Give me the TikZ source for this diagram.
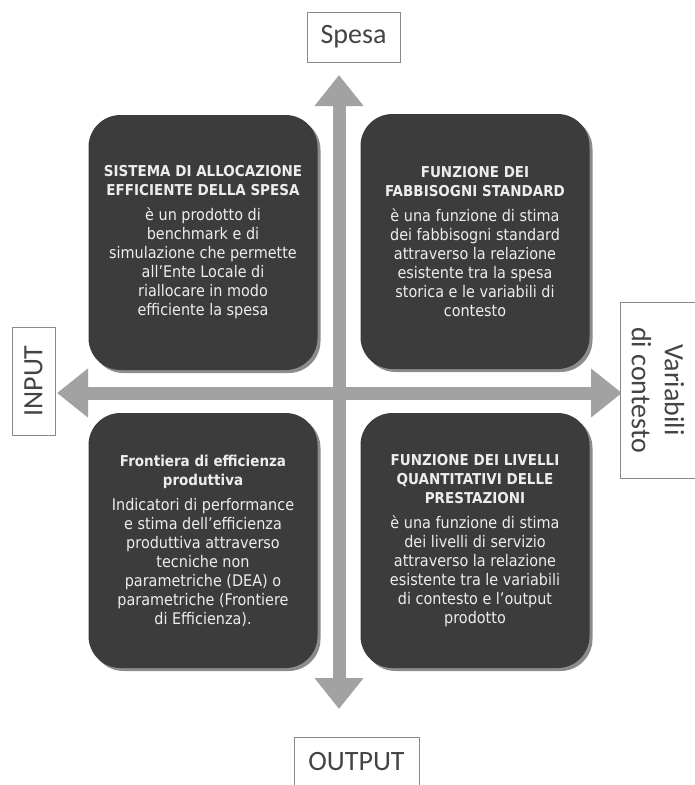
\documentclass[tikz,border=0pt]{standalone}
\usepackage{fontspec}
\setmainfont{Carlito}
\newfontfamily\boxfont[FakeStretch=0.9]{DejaVu Sans}
\usetikzlibrary{arrows.meta,shadows}
\definecolor{boxgray}{HTML}{3C3C3C}
\definecolor{arrowgray}{HTML}{A2A2A2}
\definecolor{txtlight}{HTML}{EDEDED}
\definecolor{labeltext}{HTML}{444444}
\definecolor{labelline}{HTML}{8A8A8A}
\newcommand\hd[1]{{\fontsize{15}{18}\selectfont\bfseries #1}}
\tikzset{
  quad/.style={fill=boxgray, rounded corners=32pt, minimum width=229pt, minimum height=255pt,
    inner sep=0pt, align=center, text=txtlight, font=\boxfont\fontsize{16}{19}\selectfont,
    drop shadow={shadow xshift=3pt, shadow yshift=-3pt, fill=black, opacity=0.45}},
  lab/.style={draw=labelline, line width=1pt, fill=white, text=labeltext,
    font=\fontsize{28}{33}\selectfont, inner sep=0pt, align=center},
  axis/.style={draw=arrowgray, line width=13pt,
    {Triangle[length=31pt,width=47pt]}-{Triangle[length=31pt,width=47pt]}},
}
\begin{document}
\begin{tikzpicture}[x=1pt,y=-1pt]
\useasboundingbox (0,0) rectangle (695,785);
\clip (0,0) rectangle (695,785);
\fill[white] (0,0) rectangle (695,785);

% axes
\coordinate (tipN) at (339,75);
\coordinate (tipS) at (339,709);
\coordinate (tipW) at (57,393);
\coordinate (tipE) at (622,393);
\draw[axis] (tipW) -- (tipE);
\draw[axis] (tipS) -- (tipN);

% quadrants
\node[quad] (tl) at (203,242.5) {\hd{SISTEMA DI ALLOCAZIONE}\\\hd{EFFICIENTE DELLA SPESA}\\[6pt]
  è un prodotto di\\benchmark e di\\simulazione che permette\\all’Ente Locale di\\riallocare in modo\\efficiente la spesa};
\node[quad] (tr) at (475,241.5) {\hd{FUNZIONE DEI}\\\hd{FABBISOGNI STANDARD}\\[6pt]
  è una funzione di stima\\dei fabbisogni standard\\attraverso la relazione\\esistente tra la spesa\\storica e le variabili di\\contesto};
\node[quad] (bl) at (203,540.5) {\hd{Frontiera di efficienza}\\\hd{produttiva}\\[6pt]
  Indicatori di performance\\e stima dell’efficienza\\produttiva attraverso\\tecniche non\\parametriche (DEA) o\\parametriche (Frontiere\\di Efficienza).};
\node[quad] (br) at (475,540.5) {\hd{FUNZIONE DEI LIVELLI}\\\hd{QUANTITATIVI DELLE}\\\hd{PRESTAZIONI}\\[6pt]
  è una funzione di stima\\dei livelli di servizio\\attraverso la relazione\\esistente tra le variabili\\di contesto e l’output\\prodotto};

% labels
\node[lab, minimum width=93pt, minimum height=50pt] (spesa) at (353.5,37) {Spesa};
\node[lab, minimum width=125pt, minimum height=50pt] (output) at (356.5,762) {OUTPUT};
\node[lab, minimum width=108pt, minimum height=43pt, rotate=90] (input) at (33.5,381) {INPUT};
\node[lab, minimum width=176pt, minimum height=76pt, rotate=-90] (varctx) at (658,390) {Variabili\\di contesto};
\end{tikzpicture}
\end{document}
